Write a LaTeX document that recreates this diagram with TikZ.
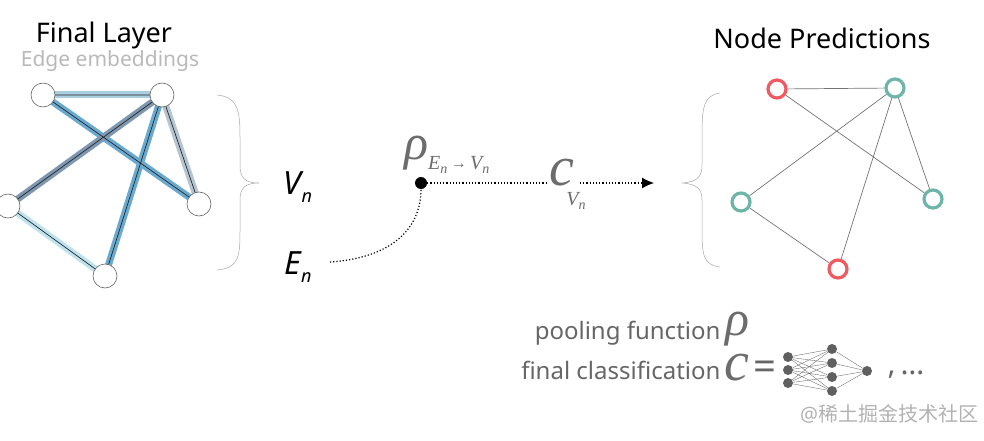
\documentclass[tikz,border=0pt]{standalone}
\usepackage{fontspec}
\usetikzlibrary{arrows.meta}
\setmainfont{Noto Sans}
\newfontfamily\cjk{Noto Sans CJK SC}
\newfontfamily\serifit{Liberation Serif}
\begin{document}
\begin{tikzpicture}[x=1pt,y=-1pt,
  ln/.style={circle,draw=gray!80!black,fill=white,minimum size=24pt,inner sep=0pt,line width=0.6pt},
  rn/.style={circle,draw=#1,line width=3.2pt,fill=white,minimum size=18pt,inner sep=0pt},
  emb/.style={line width=7pt,draw=#1},
  core/.style={line width=0.7pt,draw=black!85},
  redge/.style={draw=gray!90!black,line width=0.7pt},
  nn/.style={circle,fill=gray!75!black,minimum size=10pt,inner sep=0pt},
  nnl/.style={draw=gray!80!black,line width=0.35pt},
  gr/.style={text=gray!80!black},
  mathg/.style={text=gray!85!black,font=\serifit\itshape}]
\useasboundingbox (0,0) rectangle (984,441);
\definecolor{lb}{HTML}{A9CEDF}
\definecolor{mb}{HTML}{6AAAD0}
\definecolor{db}{HTML}{7D98B0}
\definecolor{gb}{HTML}{B4C4D0}
\definecolor{cb}{HTML}{BEE2EE}
\definecolor{rred}{HTML}{EE5A5F}
\definecolor{teal}{HTML}{6DB5A8}
% left graph
\coordinate (a) at (43,95); \coordinate (b) at (162,95); \coordinate (c) at (8,206);
\coordinate (d) at (199,204); \coordinate (e) at (105,276);
\draw[emb=lb] (a) -- (b); \draw[emb=mb] (a) -- (d); \draw[emb=db] (b) -- (c);
\draw[emb=mb] (b) -- (e); \draw[emb=gb] (b) -- (d); \draw[emb=cb] (c) -- (e);
\draw[core] (a)--(b) (a)--(d) (b)--(c) (b)--(e) (b)--(d) (c)--(e);
\node[ln] (na) at (a) {}; \node[ln] (nb) at (b) {}; \node[ln] (nc) at (c) {};
\node[ln] (nd) at (d) {}; \node[ln] (ne) at (e) {};
\node (t1) at (104,35) {\fontsize{27}{30}\selectfont Final Layer};
\node[gr,text=gray!55] (t2) at (110,61) {\fontsize{21}{24}\selectfont Edge embeddings};
% braces
\draw[gray!70,line width=0.5pt] (217,95) .. controls (240,97) and (240,115) .. (240,140) -- (240,165) .. controls (240,178) and (245,183) .. (259,183) .. controls (245,183) and (240,188) .. (240,200) -- (240,228) .. controls (240,255) and (240,268) .. (217,270);
\draw[gray!70,line width=0.5pt] (720,93) .. controls (703,95) and (702,110) .. (702,135) -- (702,165) .. controls (702,177) and (697,182) .. (682,183) .. controls (697,184) and (702,189) .. (702,200) -- (702,228) .. controls (702,255) and (703,265) .. (720,267);
\node (vn) at (298,187) {\fontsize{32}{34}\selectfont\itshape\bfseries V\raisebox{-8pt}{\fontsize{18}{18}\selectfont n}};
\node (en) at (298,267) {\fontsize{32}{34}\selectfont\itshape\bfseries E\raisebox{-8pt}{\fontsize{18}{18}\selectfont n}};
% pooling
\node[circle,fill=black,minimum size=12pt,inner sep=0pt] (dot) at (421,183) {};
\coordinate (cs) at (330,262);
\draw[dotted,line width=1.2pt] (cs) .. controls (390,258) and (421,230) .. (dot);
\node[mathg,anchor=south west,inner sep=0pt] (rho) at (404,174) {\fontsize{50}{50}\selectfont ρ\raisebox{-10pt}{\fontsize{20}{20}\selectfont E\raisebox{-4pt}{\fontsize{14}{14}\selectfont n}\,\raisebox{1pt}{\fontsize{16}{16}\selectfont\upshape →}\,V\raisebox{-4pt}{\fontsize{14}{14}\selectfont n}}};
\node[mathg,inner sep=0pt] (c) at (562,173) {\fontsize{56}{56}\selectfont c};
\node[mathg,inner sep=0pt] (cv) at (576,201) {\fontsize{20}{20}\selectfont V\raisebox{-4pt}{\fontsize{14}{14}\selectfont n}};
\coordinate (arr) at (654,183);
\draw[dotted,line width=1.2pt] (dot) -- (546,183);
\draw[dotted,line width=1.2pt,-{Latex[length=12pt,width=11pt]}] (580,183) -- (arr);
% right graph
\node[rn=rred] (r1) at (777,89) {}; \node[rn=teal] (t1n) at (895,88) {};
\node[rn=teal] (t2n) at (741,202) {}; \node[rn=teal] (t3n) at (933,199) {};
\node[rn=rred] (r2) at (838,269) {};
\draw[redge] (r1)--(t1n) (r1)--(t3n) (t1n)--(t2n) (t1n)--(r2) (t1n)--(t3n) (t2n)--(r2);
\node (np) at (822,38) {\fontsize{27}{30}\selectfont Node Predictions};
% legend
\node[gr,anchor=east] (pf) at (724,333) {\fontsize{24}{26}\selectfont pooling function};
\node[mathg] (rho2) at (737,329) {\fontsize{50}{50}\selectfont ρ};
\node[gr,anchor=east] (fc) at (724,370) {\fontsize{24}{26}\selectfont final classification};
\node[mathg] (c2) at (737,368) {\fontsize{56}{56}\selectfont c};
\node[gr] (eq) at (765,371) {\fontsize{40}{40}\selectfont =};
\foreach \i/\y in {1/357,2/370,3/383} \node[nn] (i\i) at (788,\y) {};
\foreach \j/\y in {1/349,2/363,3/377,4/391} \node[nn] (h\j) at (832,\y) {};
\node[nn] (o) at (867,371) {};
\foreach \i in {1,2,3} \foreach \j in {1,2,3,4} \draw[nnl] (i\i) -- (h\j);
\foreach \j in {1,2,3,4} \draw[nnl] (h\j) -- (o);
\node[gr] (dots) at (906,375) {\fontsize{30}{30}\selectfont ,\,…};
\node[text=gray!60] (wm) at (889,414) {\fontsize{20}{22}\selectfont @\cjk 稀土掘金技术社区};
\end{tikzpicture}
\end{document}
